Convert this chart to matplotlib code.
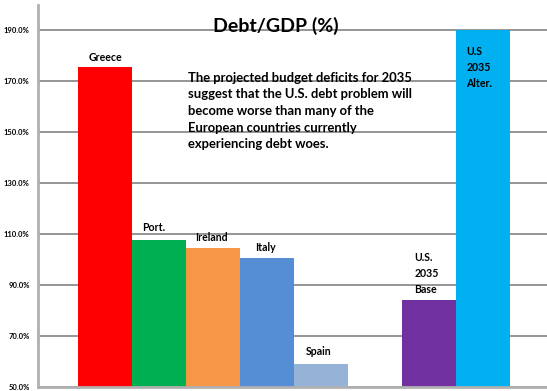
import matplotlib.pyplot as plt
import numpy as np

plt.rcParams['font.family'] = ['Lato', 'DejaVu Sans']
plt.rcParams['font.weight'] = 'bold'

countries = ['Greece', 'Port.', 'Ireland', 'Italy', 'Spain', '', 'U.S.\n2035\nBase', 'U.S\n2035\nAlter.']
debt_gdp = [175.5, 107.6, 104.6, 100.6, 59.0, np.nan, 84.1, 190.0]
colors = ['#FF0000', '#00B050', '#F79646', '#558ED5', '#95B3D7', 'none', '#7030A0', '#00B0F0']
yticks = [50, 70, 90, 110, 130, 150, 170, 190]

note = ("The projected budget deficits for 2035\n"
        "suggest that the U.S. debt problem will\n"
        "become worse than many of the\n"
        "European countries currently\n"
        "experiencing debt woes.")

fig = plt.figure(figsize=(5.47, 3.91), dpi=100)
ax = fig.add_axes([38 / 547, 4 / 391, 509 / 547, 382 / 391])

x = np.arange(len(countries))
vals = np.nan_to_num(debt_gdp, nan=0.0)
ax.bar(x, vals, width=1.0, color=colors, zorder=2)

ax.set_ylim(50, 200)
ax.set_xlim(-1.25, 8.18)
ax.set_yticks(yticks)
ax.set_yticklabels(['{0:.1f}%'.format(t) for t in yticks], fontsize=5.5, fontweight='bold')
ax.set_xticks([])
ax.tick_params(axis='y', length=0, pad=6)
ax.grid(True, axis='y', color='#8c8c8c', linewidth=1.3, zorder=0)
ax.set_axisbelow(True)
for s in ['top', 'right']:
    ax.spines[s].set_visible(False)
ax.spines['left'].set_color('#b0b0b0')
ax.spines['left'].set_linewidth(2)
ax.spines['bottom'].set_color('#b0b0b0')
ax.spines['bottom'].set_linewidth(2)

# labels over bars (offset in pixels from the bar top)
offsets = [(0, 10), (-6, 13), (-2, 10), (-2, 11), (-3, 13), None, None, None]
for i, (name, v) in enumerate(zip(countries, debt_gdp)):
    if offsets[i] is None:
        continue
    dx, dy = offsets[i]
    ax.annotate(name, (x[i], v), xytext=(dx, dy), textcoords='offset pixels',
                ha='center', va='center', fontsize=7.6, fontweight='bold')

# U.S. base label above its bar, alternative label inside its bar
ax.annotate(countries[6], (x[6] - 0.5, debt_gdp[6]), xytext=(12, 5), textcoords='offset pixels',
            ha='left', va='bottom', fontsize=7.6, fontweight='bold', linespacing=1.55)
ax.annotate(countries[7], (x[7] - 0.5, debt_gdp[7]), xytext=(10, -16), textcoords='offset pixels',
            ha='left', va='top', fontsize=7.6, fontweight='bold', linespacing=1.55)

fig.text(276 / 547, 1 - 26 / 391, 'Debt/GDP (%)', ha='center', va='center',
         fontsize=14, fontweight='bold')
fig.text(188 / 547, 1 - 72 / 391, note, ha='left', va='top', fontsize=9.4,
         fontweight='bold', linespacing=1.45)

plt.savefig('out.png', dpi=100)
